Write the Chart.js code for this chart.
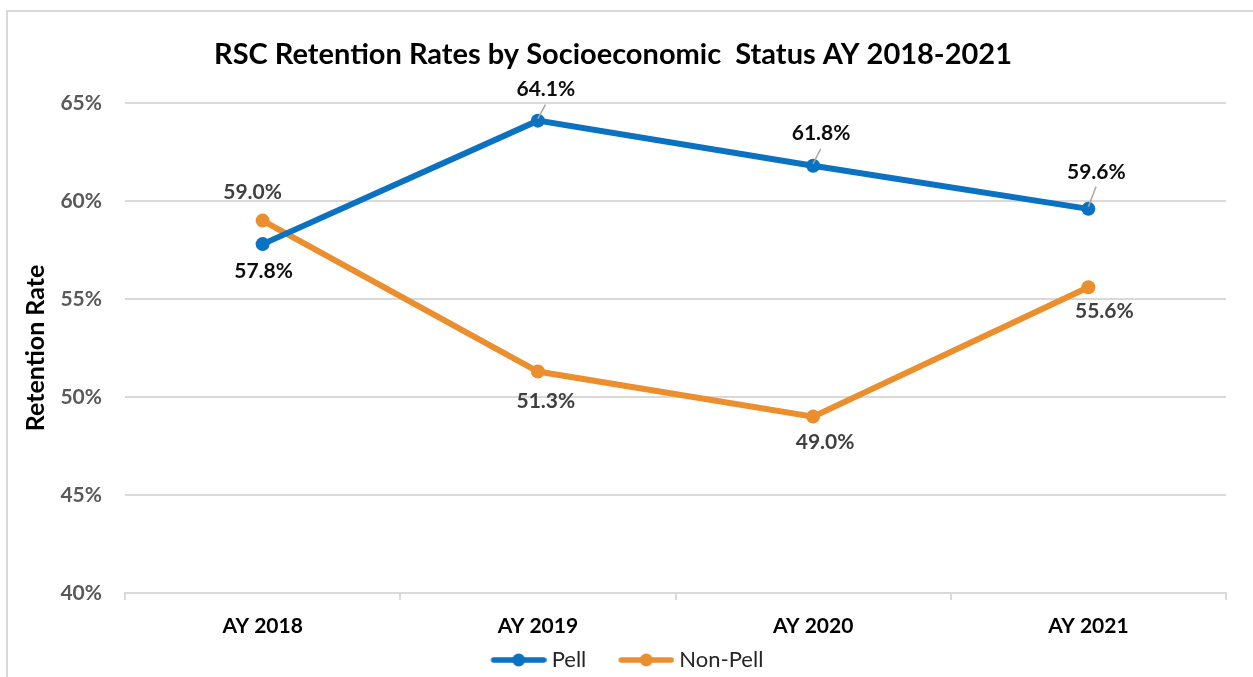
<!DOCTYPE html>
<html>
<head>
<meta charset="utf-8">
<script src="https://cdn.jsdelivr.net/npm/chart.js@4.4.1/dist/chart.umd.min.js"></script>
<style>
  html, body { margin: 0; padding: 0; background: #ffffff; }
  #wrap { position: relative; width: 1253px; height: 677px; overflow: hidden; }
  #frame { position: absolute; left: 6px; top: 10px; width: 1260px; height: 700px;
           border: 2px solid #d9d9d9; box-sizing: border-box; }
  canvas { position: absolute; left: 0; top: 0; }
</style>
</head>
<body>
<div id="wrap">
  <div id="frame"></div>
  <canvas id="chart" width="1253" height="677"></canvas>
</div>
<script>
// Academic years on the x axis
const years = ['AY 2018', 'AY 2019', 'AY 2020', 'AY 2021'];
// Retention rates (%) per group
const pellRates = [57.8, 64.1, 61.8, 59.6];
const nonPellRates = [59.0, 51.3, 49.0, 55.6];
// Y axis range and step (%)
const yMin = 40, yMax = 65, yStep = 5;

const FONT = 'Lato, "Open Sans", sans-serif';
const BLUE = '#0B72C2';
const ORANGE = '#EB8E2E';

// Legend swatch: a line with a round marker, drawn to a small canvas
function swatch(color) {
  const c = document.createElement('canvas');
  c.width = 90; c.height = 16;
  const g = c.getContext('2d');
  g.strokeStyle = color; g.lineWidth = 5.5; g.lineCap = 'round';
  g.beginPath(); g.moveTo(37, 8); g.lineTo(87, 8); g.stroke();
  g.fillStyle = color;
  g.beginPath(); g.arc(62, 8, 6.5, 0, Math.PI * 2); g.fill();
  return c;
}

// Value labels next to each point, with optional short leader lines
const valueLabels = {
  id: 'valueLabels',
  afterDatasetsDraw(chart) {
    const ctx = chart.ctx;
    chart.data.datasets.forEach((ds, i) => {
      const meta = chart.getDatasetMeta(i);
      const place = ds.labelPlace;
      meta.data.forEach((pt, j) => {
        const p = place[j];
        const lx = pt.x + p.dx, ly = pt.y + p.dy;
        if (p.leader) {
          ctx.save();
          ctx.strokeStyle = '#a6a6a6';
          ctx.lineWidth = 1.5;
          ctx.beginPath();
          ctx.moveTo(pt.x, pt.y - 2);
          ctx.lineTo(lx + (pt.x - lx) * 0.05, ly + 15);
          ctx.stroke();
          ctx.restore();
        }
        ctx.save();
        ctx.font = 'bold 21px ' + FONT;
        ctx.fillStyle = ds.labelColor;
        ctx.textAlign = 'center';
        ctx.textBaseline = 'middle';
        ctx.fillText(ds.data[j].toFixed(1) + '%', lx, ly);
        ctx.restore();
      });
    });
  }
};

new Chart(document.getElementById('chart'), {
  type: 'line',
  data: {
    labels: years,
    datasets: [
      {
        label: 'Pell',
        data: pellRates,
        borderColor: BLUE,
        backgroundColor: BLUE,
        borderWidth: 6,
        pointRadius: 7,
        pointHoverRadius: 7,
        pointBorderWidth: 0,
        labelColor: '#0d0d0d',
        labelPlace: [
          { dx: 1, dy: 27 },
          { dx: 8, dy: -31, leader: true },
          { dx: 8, dy: -32, leader: true },
          { dx: 8, dy: -37, leader: true }
        ]
      },
      {
        label: 'Non-Pell',
        data: nonPellRates,
        borderColor: ORANGE,
        backgroundColor: ORANGE,
        borderWidth: 6,
        pointRadius: 7,
        pointHoverRadius: 7,
        pointBorderWidth: 0,
        labelColor: '#404040',
        labelPlace: [
          { dx: -10, dy: -28 },
          { dx: 8, dy: 30 },
          { dx: 12, dy: 26 },
          { dx: 16, dy: 24 }
        ]
      }
    ]
  },
  options: {
    responsive: false,
    animation: false,
    layout: { padding: { left: 0, right: 27, top: 0, bottom: -4 } },
    plugins: {
      title: {
        display: true,
        text: 'RSC Retention Rates by Socioeconomic  Status AY 2018-2021',
        color: '#000000',
        font: { family: FONT, size: 29, weight: 'bold' },
        padding: { top: 37.6, bottom: 30.6 }
      },
      legend: {
        position: 'bottom',
        labels: {
          color: '#262626',
          font: { family: FONT, size: 22 },
          usePointStyle: true,
          pointStyleWidth: 78,
          boxHeight: 21,
          padding: 4,
          generateLabels(chart) {
            return chart.data.datasets.map((ds, i) => ({
              text: ds.label,
              pointStyle: swatch(ds.borderColor),
              fillStyle: ds.borderColor,
              strokeStyle: ds.borderColor,
              fontColor: '#262626',
              lineWidth: 0,
              hidden: false,
              datasetIndex: i
            }));
          }
        }
      },
      tooltip: { enabled: false }
    },
    scales: {
      x: {
        offset: true,
        grid: {
          offset: true,
          drawOnChartArea: false,
          drawTicks: true,
          tickLength: 7,
          color: '#d9d9d9',
          lineWidth: 2
        },
        border: { display: true, color: '#d9d9d9', width: 2 },
        ticks: {
          color: '#000000',
          font: { family: FONT, size: 21, weight: 'bold' },
          padding: 14
        },
        afterFit(scale) { scale.height = 52; }
      },
      y: {
        min: yMin,
        max: yMax,
        ticks: {
          stepSize: yStep,
          color: '#595959',
          font: { family: FONT, size: 21, weight: 'bold' },
          padding: 23,
          callback: v => v + '%'
        },
        grid: { color: '#d9d9d9', lineWidth: 2, drawTicks: false },
        border: { display: false },
        title: {
          display: true,
          text: 'Retention Rate',
          color: '#000000',
          font: { family: FONT, size: 25, weight: 'bold' },
          padding: { top: 21, bottom: 0 }
        },
        afterFit(scale) { scale.width = 125; }
      }
    }
  },
  plugins: [valueLabels]
});
</script>
</body>
</html>
